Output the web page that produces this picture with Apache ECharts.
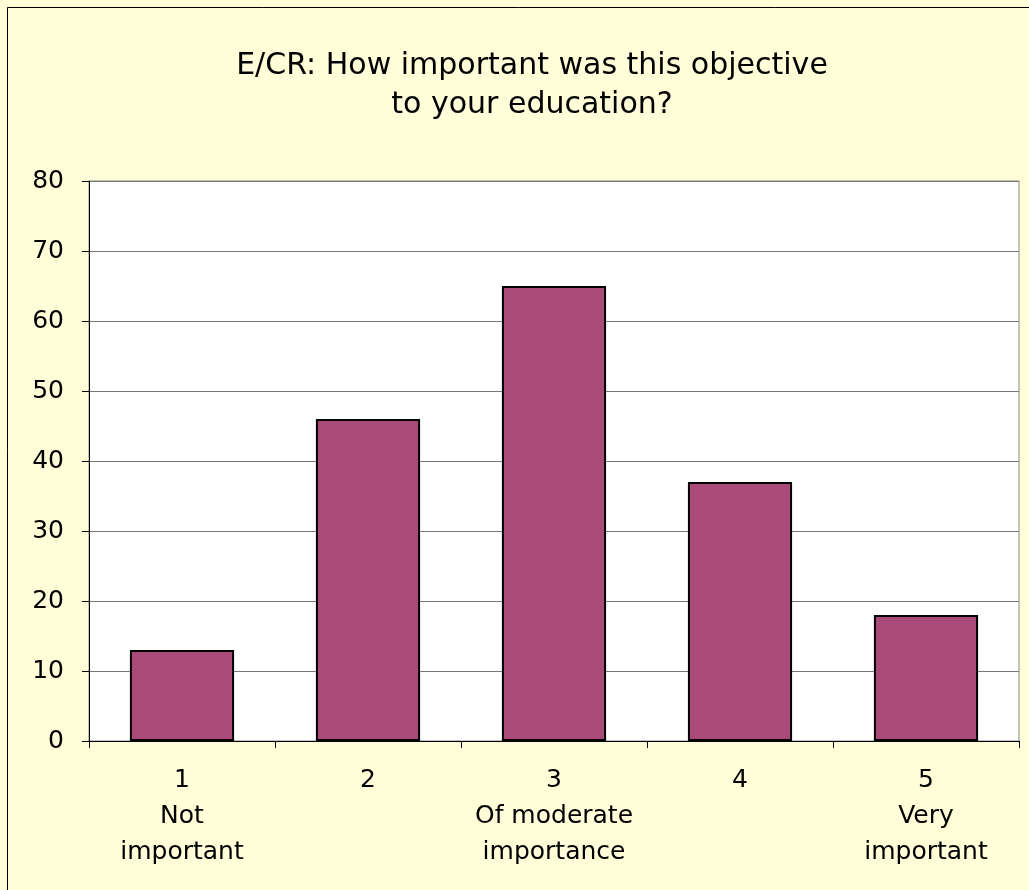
<!DOCTYPE html>
<html><head><meta charset="utf-8">
<script src="https://cdn.jsdelivr.net/npm/echarts@6/dist/echarts.min.js"></script>
<style>html,body{margin:0;padding:0;background:#FFFED8;}#c{width:1029px;height:890px;}</style>
</head><body><div id="c"></div>
<script>
const categories = ["1\nNot\nimportant", "2", "3\nOf moderate\nimportance", "4", "5\nVery\nimportant"];
const values = [13, 46, 65, 37, 18];
const yTicks = { min: 0, max: 80, interval: 10 };
const titleText = "E/CR: How important was this objective\nto your education?";

const chart = echarts.init(document.getElementById('c'));
const FONT = '"DejaVu Sans", sans-serif';
chart.setOption({
  backgroundColor: '#FFFED8',
  animation: false,
  title: {
    text: titleText,
    left: 527, top: 42, textAlign: 'center',
    textStyle: { fontFamily: FONT, fontSize: 30, fontWeight: 500, color: '#000', lineHeight: 39 }
  },
  graphic: [{
    type: 'rect', shape: { x: 7.5, y: 7.5, width: 1040, height: 900 },
    style: { fill: null, stroke: '#000', lineWidth: 1 }, silent: true
  }],
  grid: { left: 89, top: 181, right: 10, bottom: 149, show: true, backgroundColor: '#fff', borderColor: '#888', borderWidth: 1 },
  xAxis: {
    type: 'category', data: categories, boundaryGap: true,
    axisLine: { lineStyle: { color: '#000', width: 1 } },
    axisTick: { show: true, length: 7, lineStyle: { color: '#000' } },
    axisLabel: { fontFamily: FONT, fontSize: 25, color: '#000', lineHeight: 36, margin: 21, interval: 0 }
  },
  yAxis: {
    type: 'value', min: yTicks.min, max: yTicks.max, interval: yTicks.interval,
    axisLine: { show: true, lineStyle: { color: '#000', width: 1 } },
    axisTick: { show: true, length: 7, lineStyle: { color: '#000' } },
    splitLine: { lineStyle: { color: '#777', width: 1 } },
    axisLabel: { fontFamily: FONT, fontSize: 25, color: '#000', margin: 25 }
  },
  series: [{
    type: 'bar', data: values, barWidth: '56%',
    itemStyle: { color: '#AA4A78', borderColor: '#000', borderWidth: 2 }
  }]
});
</script></body></html>
